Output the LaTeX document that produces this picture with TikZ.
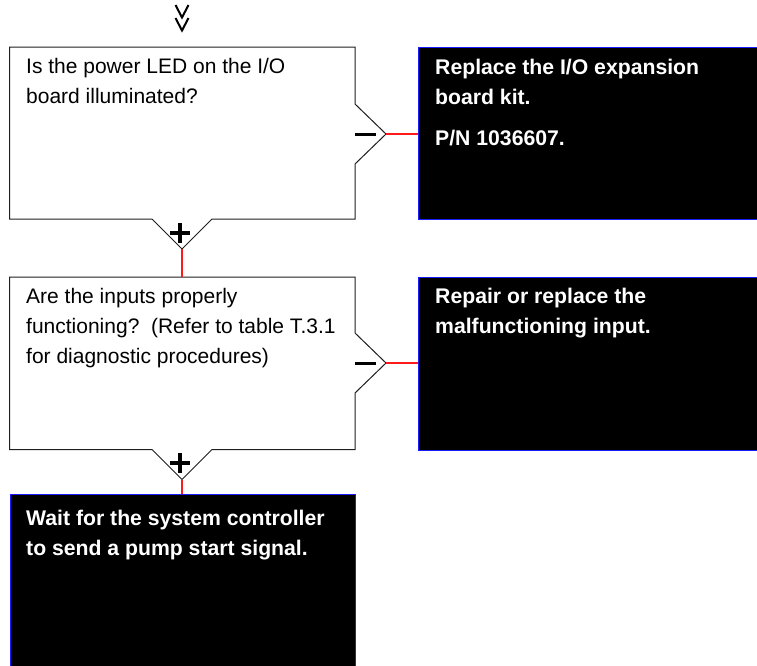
\documentclass[tikz,border=0pt]{standalone}
\usepackage{fontspec}
\setmainfont{Liberation Sans}
\usepackage{xcolor}
\definecolor{edgeblue}{HTML}{1A1AFF}
\definecolor{linkred}{HTML}{FF1A1A}
\definecolor{boxink}{HTML}{1E1E1E}

\begin{document}
\begin{tikzpicture}[x=1pt, y=-1pt,
  qbox/.style={draw=boxink, line width=1pt},
  actb/.style={draw=edgeblue, fill=black, line width=1.2pt,
               inner sep=0pt, anchor=north west},
  qtxt/.style={anchor=north west, inner sep=0pt, align=left,
               font=\fontsize{21}{30}\selectfont},
  atxt/.style={qtxt, text=white, font=\fontsize{21.2}{30}\selectfont\bfseries},
  link/.style={draw=linkred, line width=1.5pt},
  sign/.style={line width=3.1pt}]

\useasboundingbox (0,0) rectangle (757,665);
\clip (0,0) rectangle (757,665);

% entry marks
\draw[line width=2pt] (175.5,5) -- (182,17.5) -- (188.5,5)
                      (175.5,18) -- (182,30.5) -- (188.5,18);

% first question
\draw[qbox] (9.5,47) -- (355,47) -- (355,104) -- (386,134) coordinate (q1no)
  -- (355,164) -- (355,219) -- (212,219) -- (182,249) coordinate (q1yes)
  -- (152,219) -- (9.5,219) -- cycle;
\node[qtxt] (q1text) at (26,58) {Is the power LED on the I/O\\board illuminated?};
\draw[sign] (355,134.5) -- +(21,0);
\draw[sign] (170,233) -- +(20,0) (180,223) -- +(0,20);

\node[actb, minimum width=400, minimum height=172] (kit) at (418,47) {};
\node[atxt] (kittext) at (435,59)
  {Replace the I/O expansion\\board kit.\\[11pt]P/N 1036607.};

% second question
\draw[qbox] (9.5,277) -- (182,277) coordinate (q2top) -- (355,277)
  -- (355,333) -- (386,363) coordinate (q2no) -- (355,393) -- (355,449.5)
  -- (212,449.5) -- (182,479.5) coordinate (q2yes) -- (152,449.5)
  -- (9.5,449.5) -- cycle;
\node[qtxt] (q2text) at (26,288)
  {Are the inputs properly\\functioning?\ \ (Refer to table T.3.1\\for diagnostic procedures)};
\draw[sign] (355,363.5) -- +(21,0);
\draw[sign] (170,463) -- +(20,0) (180,453) -- +(0,20);

\node[actb, minimum width=400, minimum height=173] (fix) at (418,277) {};
\node[atxt] (fixtext) at (435,288)
  {Repair or replace the\\malfunctioning input.};

% go on
\node[actb, minimum width=345.5, minimum height=200] (wait) at (9.5,494) {};
\node[atxt] (waittext) at (26,510)
  {Wait for the system controller\\to send a pump start signal.};

% links, all in one path
\draw[link] (q1no) -- (q1no -| kit.west)
  (q1yes) -- (q2top)
  (q2no) -- (q2no -| fix.west)
  (q2yes) -- (q2yes |- wait.north);

\end{tikzpicture}
\end{document}
